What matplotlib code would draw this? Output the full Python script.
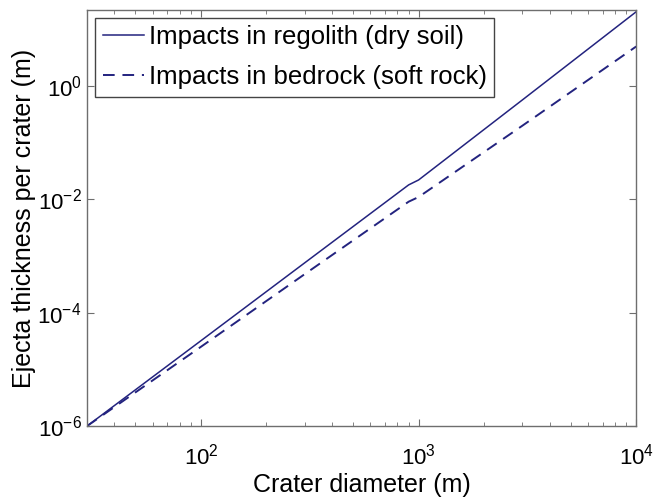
import matplotlib
matplotlib.use("Agg")
import matplotlib.pyplot as plt
import matplotlib.ticker as mticker

plt.rcParams["font.family"] = ["Liberation Sans", "DejaVu Sans"]
plt.rcParams["mathtext.fontset"] = "custom"
plt.rcParams["mathtext.rm"] = "Liberation Sans"

# ── Data ───────────────────────────────────────────────────────────────────
diameter = [30, 100, 300, 900, 1000, 3000, 10000]
regolith = [1.0e-6, 3.2e-5, 7.6e-4, 1.8e-2, 2.2e-2, 5.7e-1, 2.05e1]
bedrock = [1.0e-6, 2.5e-5, 4.8e-4, 9.1e-3, 1.1e-2, 2.0e-1, 5.0]

LINE = "#23237f"
SPINE = "#6e6e6e"

fig = plt.figure(figsize=(6.6, 5.0), dpi=100, facecolor="white")
ax = fig.add_axes([0.132, 0.148, 0.832, 0.832])

ax.loglog(diameter, regolith, color=LINE, lw=1.1, label="Impacts in regolith (dry soil)")
ax.loglog(diameter, bedrock, color=LINE, lw=1.4, ls=(0, (6, 4)),
          label="Impacts in bedrock (soft rock)")

ax.set_xlim(30, 1e4)
ax.set_ylim(1e-6, 2.2e1)
ax.xaxis.set_major_locator(mticker.LogLocator(base=10, numticks=10))
ax.yaxis.set_major_locator(mticker.FixedLocator([1e-6, 1e-4, 1e-2, 1e0]))
ax.yaxis.set_minor_locator(mticker.NullLocator())
ax.xaxis.set_minor_locator(mticker.LogLocator(base=10, subs=range(2, 10), numticks=10))

ax.tick_params(which="both", direction="in", top=True, right=True, colors=SPINE,
               labelcolor="black", labelsize=16)
ax.tick_params(which="major", length=5, width=0.8)
ax.tick_params(which="minor", length=3, width=0.6)
ax.tick_params(axis="x", which="major", pad=13)
ax.tick_params(axis="y", which="major", pad=4)
for s in ax.spines.values():
    s.set_color(SPINE)
    s.set_linewidth(1.0)

ax.set_xlabel("Crater diameter (m)", fontsize=18, labelpad=2)
ax.set_ylabel("Ejecta thickness per crater (m)", fontsize=18, labelpad=1)

leg = ax.legend(loc="upper left", fontsize=18.5, handlelength=1.6, handletextpad=0.2,
                borderpad=0.3, labelspacing=0.6, borderaxespad=0.3, fancybox=False,
                framealpha=1)
leg.get_frame().set_edgecolor("#444444")
leg.get_frame().set_linewidth(1.0)

fig.savefig("out.png", dpi=100, facecolor="white")
